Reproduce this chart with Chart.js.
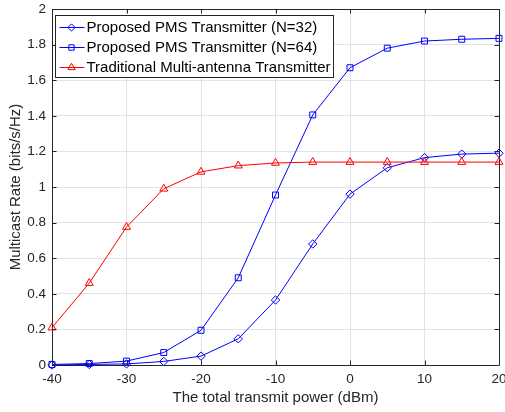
<!DOCTYPE html>
<html>
<head>
<meta charset="utf-8">
<script src="https://cdn.jsdelivr.net/npm/chart.js@4/dist/chart.umd.min.js"></script>
<style>
html,body{margin:0;padding:0;background:#fff;}
#wrap{width:505px;height:412px;position:relative;}
</style>
</head>
<body>
<div id="wrap"><canvas id="c" width="505" height="412"></canvas></div>
<script>
const powerDbm = [-40, -35, -30, -25, -20, -15, -10, -5, 0, 5, 10, 15, 20];
const pms32 = [0.0, 0.003, 0.006, 0.02, 0.05, 0.147, 0.365, 0.68, 0.96, 1.108, 1.165, 1.185, 1.19];
const pms64 = [0.003, 0.008, 0.022, 0.07, 0.195, 0.49, 0.955, 1.405, 1.67, 1.78, 1.82, 1.83, 1.835];
const traditional = [0.21, 0.46, 0.775, 0.99, 1.085, 1.12, 1.135, 1.14, 1.14, 1.14, 1.14, 1.14, 1.14];
const seriesLabels = ['Proposed PMS Transmitter (N=32)', 'Proposed PMS Transmitter (N=64)', 'Traditional Multi-antenna Transmitter'];
const xTicks = [-40, -30, -20, -10, 0, 10, 20];
const yTicks = [0, 0.2, 0.4, 0.6, 0.8, 1, 1.2, 1.4, 1.6, 1.8, 2];

const FONT = 'Liberation Sans, Arial, Helvetica, sans-serif';
const TXT = '#262626';

function pts(arr){ return powerDbm.map((x,i)=>({x:x,y:arr[i]})); }

const datasets = [
  {label: seriesLabels[0], data: pts(pms32), borderColor:'#0000ff', backgroundColor:'rgba(0,0,0,0)', pointStyle:'rectRot', pointRadius:4.2, legendRadius:3.6, pointBorderWidth:1, borderWidth:1, order:3, clip:false},
  {label: seriesLabels[1], data: pts(pms64), borderColor:'#0000ff', backgroundColor:'rgba(0,0,0,0)', pointStyle:'rect', pointRadius:4.2, legendRadius:3.8, pointBorderWidth:1, borderWidth:1, order:2, clip:false},
  {label: seriesLabels[2], data: pts(traditional), borderColor:'#ff0000', backgroundColor:'rgba(0,0,0,0)', pointStyle:'triangle', pointRadius:4.6, legendRadius:4.2, pointBorderWidth:1, borderWidth:1, order:1, clip:false}
];

function fmt(v){ return String(Math.round(v*10)/10); }

const framePlugin = {
  id:'frame',
  beforeDatasetsDraw(chart){
    const ctx = chart.ctx, a = chart.chartArea;
    ctx.save();
    ctx.strokeStyle = TXT; ctx.lineWidth = 1;
    ctx.beginPath();
    ctx.rect(Math.round(a.left)+0.5, Math.round(a.top)+0.5, Math.round(a.right-a.left), Math.round(a.bottom-a.top));
    ctx.stroke();
    ctx.restore();
  },
  afterDatasetsDraw(chart){
    const ctx = chart.ctx, a = chart.chartArea;
    const xs = chart.scales.x, ys = chart.scales.y;
    ctx.save();
    ctx.strokeStyle = TXT; ctx.lineWidth = 1;
    const tl = 4.5;
    ctx.beginPath();
    xTicks.forEach(v=>{
      const px = Math.round(xs.getPixelForValue(v))+0.5;
      ctx.moveTo(px, a.bottom); ctx.lineTo(px, a.bottom - tl);
      ctx.moveTo(px, a.top); ctx.lineTo(px, a.top + tl);
    });
    yTicks.forEach(v=>{
      const py = Math.round(ys.getPixelForValue(v))+0.5;
      ctx.moveTo(a.left, py); ctx.lineTo(a.left + tl, py);
      ctx.moveTo(a.right, py); ctx.lineTo(a.right - tl, py);
    });
    ctx.stroke();
    ctx.restore();
  },
  afterDraw(chart){
    const ctx = chart.ctx, a = chart.chartArea;
    const bx = Math.round(a.left)+3.5, by = Math.round(a.top)+6.5, bw = 278, bh = 62;
    ctx.save();
    ctx.fillStyle = '#fff';
    ctx.fillRect(bx, by, bw, bh);
    ctx.strokeStyle = TXT; ctx.lineWidth = 1;
    ctx.strokeRect(bx, by, bw, bh);
    ctx.textBaseline = 'middle';
    const rowY = [by + 12, by + 32, by + 52];
    chart.data.datasets.forEach((ds, i)=>{
      const y = rowY[i];
      ctx.strokeStyle = ds.borderColor; ctx.lineWidth = 1;
      ctx.beginPath(); ctx.moveTo(bx+4, y); ctx.lineTo(bx+29, y); ctx.stroke();
      ctx.fillStyle = 'rgba(0,0,0,0)';
      Chart.helpers.drawPoint(ctx, {pointStyle: ds.pointStyle, radius: ds.legendRadius, rotation:0, borderWidth:1}, bx+16, y);
      ctx.fillStyle = '#000';
      ctx.font = '15px ' + FONT;
      ctx.fillText(ds.label, bx+31, y+0.5);
    });
    ctx.restore();
  }
};

new Chart(document.getElementById('c'), {
  type:'line',
  data:{datasets:datasets},
  options:{
    responsive:false,
    animation:false,
    layout:{padding:{left:0, right:6, top:9, bottom:0}},
    plugins:{legend:{display:false}, tooltip:{enabled:false}},
    scales:{
      x:{
        type:'linear', min:-40, max:20,
        afterBuildTicks(s){ s.ticks = xTicks.map(v=>({value:v})); },
        afterFit(s){ s.height = 47; s.paddingLeft = 0; s.paddingRight = 0; },
        grid:{color:'#e3e3e3', drawTicks:false, lineWidth:1},
        border:{display:false},
        ticks:{color:TXT, font:{family:FONT, size:13.5}, padding:6, maxRotation:0, callback:v=>fmt(v)},
        title:{display:true, text:'The total transmit power (dBm)', color:TXT, font:{family:FONT, size:15}, padding:{top:0, bottom:5}}
      },
      y:{
        type:'linear', min:0, max:2,
        afterBuildTicks(s){ s.ticks = yTicks.map(v=>({value:v})); },
        afterFit(s){ s.width = 52; s.paddingTop = 0; s.paddingBottom = 0; },
        grid:{color:'#e3e3e3', drawTicks:false, lineWidth:1},
        border:{display:false},
        ticks:{color:TXT, font:{family:FONT, size:13.5}, padding:6, callback:v=>fmt(v)},
        title:{display:true, text:'Multicast Rate (bits/s/Hz)', color:TXT, font:{family:FONT, size:15}, padding:{top:7, bottom:0}}
      }
    },
    elements:{line:{tension:0}}
  },
  plugins:[framePlugin]
});
</script>
</body>
</html>
